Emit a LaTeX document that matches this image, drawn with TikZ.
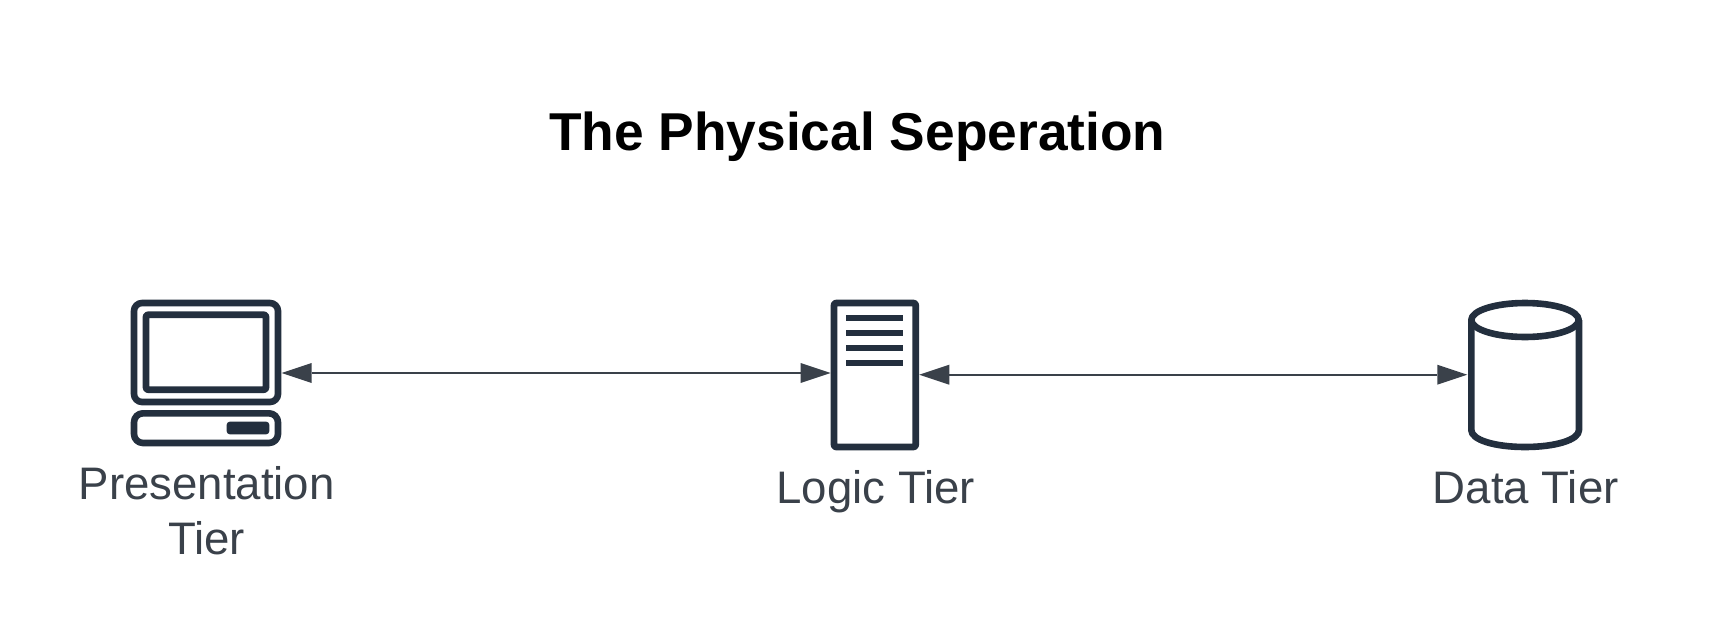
\documentclass[tikz,border=0pt]{standalone}
\usepackage{fontspec}
\setmainfont{Liberation Sans}
\usetikzlibrary{arrows.meta}
\definecolor{icon}{HTML}{232F3E}
\definecolor{txt}{HTML}{3A414A}
\tikzset{
  x=1pt,y=-1pt,
  iconline/.style={draw=icon,line width=6.6pt,line join=round,fill=white},
  bar/.style={fill=icon,draw=none},
  link/.style={draw=txt,line width=1.8pt,{Triangle[length=30pt,width=20pt,line width=0pt,fill=txt]}-{Triangle[length=30pt,width=20pt,line width=0pt,fill=txt]}},
  tier/.style={font=\fontsize{45.6}{55}\selectfont,text=txt,anchor=base,align=center,inner sep=0pt},
  titletext/.style={font=\fontsize{53.3}{60}\selectfont\bfseries,text=black,anchor=base,inner sep=0pt}
}
\begin{document}
\begin{tikzpicture}
\useasboundingbox (0,0) rectangle (1714,632);
\fill[white] (0,0) rectangle (1714,632);
\node[titletext] (title) at (857.3,150) {The Physical Seperation};
% computer
\draw[iconline,rounded corners=8pt] (134,303) rectangle (278,402);
\draw[iconline,rounded corners=2pt] (146,314.7) rectangle (266,389.7);
\draw[iconline,rounded corners=9pt] (134,413.3) rectangle (278,443);
\fill[bar,rounded corners=3pt] (226.7,421.7) rectangle (269.3,434.3);
% server
\draw[iconline,rounded corners=2pt] (834,303) rectangle (915.7,447);
\foreach \y in {318,333,348,363} \fill[bar] (846,\y-3) rectangle (903.3,\y+3);
% cylinder
\draw[iconline] (1471.3,320) -- (1471.3,430) .. controls (1471.3,440) and (1495,447) .. (1525,447) .. controls (1555,447) and (1579,440) .. (1579,430) -- (1579,320);
\draw[iconline] (1525,320) ellipse [x radius=53.7,y radius=17];
% anchors
\coordinate (pc) at (281.7,373);
\coordinate (sl) at (830.7,373);
\coordinate (sr) at (919.3,374.7);
\coordinate (db) at (1467.3,374.7);
\draw[link] (pc) -- (sl);
\draw[link] (sr) -- (db);
\node[tier] (p) at (206.7,499.5) {Presentation};
\node[tier] (p2) at (206.7,554.5) {Tier};
\node[tier] (l) at (875.7,503) {Logic Tier};
\node[tier] (d) at (1525.7,503) {Data Tier};
\end{tikzpicture}
\end{document}
